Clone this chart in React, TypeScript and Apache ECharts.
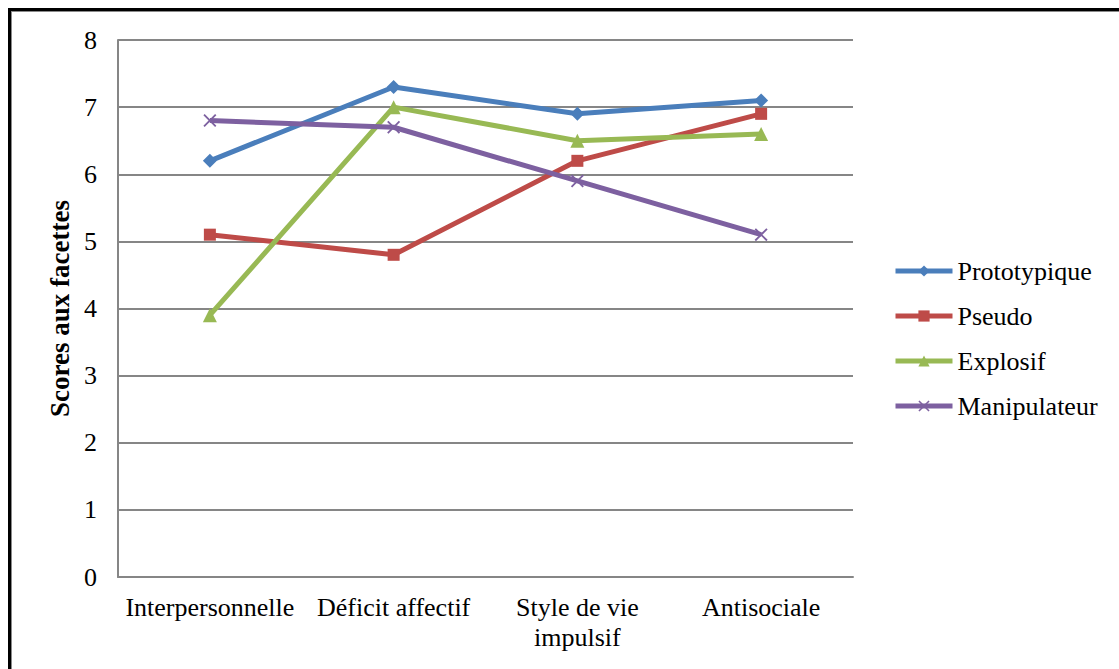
import React, { useEffect, useRef } from "react";
import * as echarts from "echarts";

const categories = ["Interpersonnelle", "Déficit affectif", "Style de vie\nimpulsif", "Antisociale"];
const prototypique = [6.2, 7.3, 6.9, 7.1];
const pseudo = [5.1, 4.8, 6.2, 6.9];
const explosif = [3.9, 7.0, 6.5, 6.6];
const manipulateur = [6.8, 6.7, 5.9, 5.1];
const seriesNames = ["Prototypique", "Pseudo", "Explosif", "Manipulateur"];
const yAxisTitle = "Scores aux facettes";

const FONT = "'Liberation Serif', 'Times New Roman', serif";
const CROSS = "path://M0,1L1,0L5,4L9,0L10,1L6,5L10,9L9,10L5,6L1,10L0,9L4,5Z";

export default function App() {
  const ref = useRef<HTMLDivElement>(null);
  useEffect(() => {
    if (!ref.current) return;
    const chart = echarts.init(ref.current, undefined, { renderer: "svg" });
    const mk = (name: string, data: number[], color: string, symbol: string, size: number) => ({
      name,
      type: "line",
      data,
      symbol,
      symbolSize: size,
      lineStyle: { color, width: 5 },
      itemStyle: { color },
      emphasis: { disabled: true },
    });
    chart.setOption({
      animation: false,
      backgroundColor: "#ffffff",
      textStyle: { fontFamily: FONT },
      grid: { left: 118, right: 266, top: 40, bottom: 92, containLabel: false },
      xAxis: {
        type: "category",
        data: categories,
        boundaryGap: true,
        axisLine: { show: true, lineStyle: { color: "#868686", width: 2 } },
        axisTick: { show: false },
        axisLabel: { color: "#000", fontSize: 26, fontFamily: FONT, margin: 15, lineHeight: 30, interval: 0 },
        splitLine: { show: false },
      },
      yAxis: {
        type: "value",
        min: 0,
        max: 8,
        interval: 1,
        name: yAxisTitle,
        nameLocation: "middle",
        nameGap: 44,
        nameRotate: 90,
        nameTextStyle: { color: "#000", fontSize: 27, fontWeight: "bold", fontFamily: FONT },
        axisLine: { show: true, lineStyle: { color: "#868686", width: 2 } },
        axisTick: { show: false },
        axisLabel: { color: "#000", fontSize: 26, fontFamily: FONT, margin: 21 },
        splitLine: { show: true, lineStyle: { color: "#868686", width: 2 } },
      },
      legend: {
        orient: "vertical",
        left: 893,
        top: 258,
        padding: 0,
        itemWidth: 57,
        itemHeight: 14,
        itemGap: 19,
        lineStyle: { width: 5 },
        textStyle: { color: "#000", fontSize: 26, fontFamily: FONT },
        data: seriesNames,
      },
      graphic: [
        { type: "line", shape: { x1: 8, y1: 9.5, x2: 1119, y2: 9.5 }, style: { stroke: "#000", lineWidth: 3 } },
        { type: "line", shape: { x1: 9.5, y1: 8, x2: 9.5, y2: 669 }, style: { stroke: "#000", lineWidth: 3 } },
        { type: "line", shape: { x1: 11, y1: 11.5, x2: 1119, y2: 11.5 }, style: { stroke: "#8a8a8a", lineWidth: 1 } },
        { type: "line", shape: { x1: 11.5, y1: 11, x2: 11.5, y2: 669 }, style: { stroke: "#8a8a8a", lineWidth: 1 } },
      ],
      series: [
        mk(seriesNames[0], prototypique, "#4A7EBB", "diamond", 14),
        mk(seriesNames[1], pseudo, "#BE4B48", "rect", 12),
        mk(seriesNames[2], explosif, "#98B954", "triangle", 14),
        mk(seriesNames[3], manipulateur, "#7D60A0", CROSS, 13),
      ],
    });
    return () => chart.dispose();
  }, []);
  return <div ref={ref} style={{ position: "fixed", left: 0, top: 0, width: 1119, height: 669 }} />;
}
